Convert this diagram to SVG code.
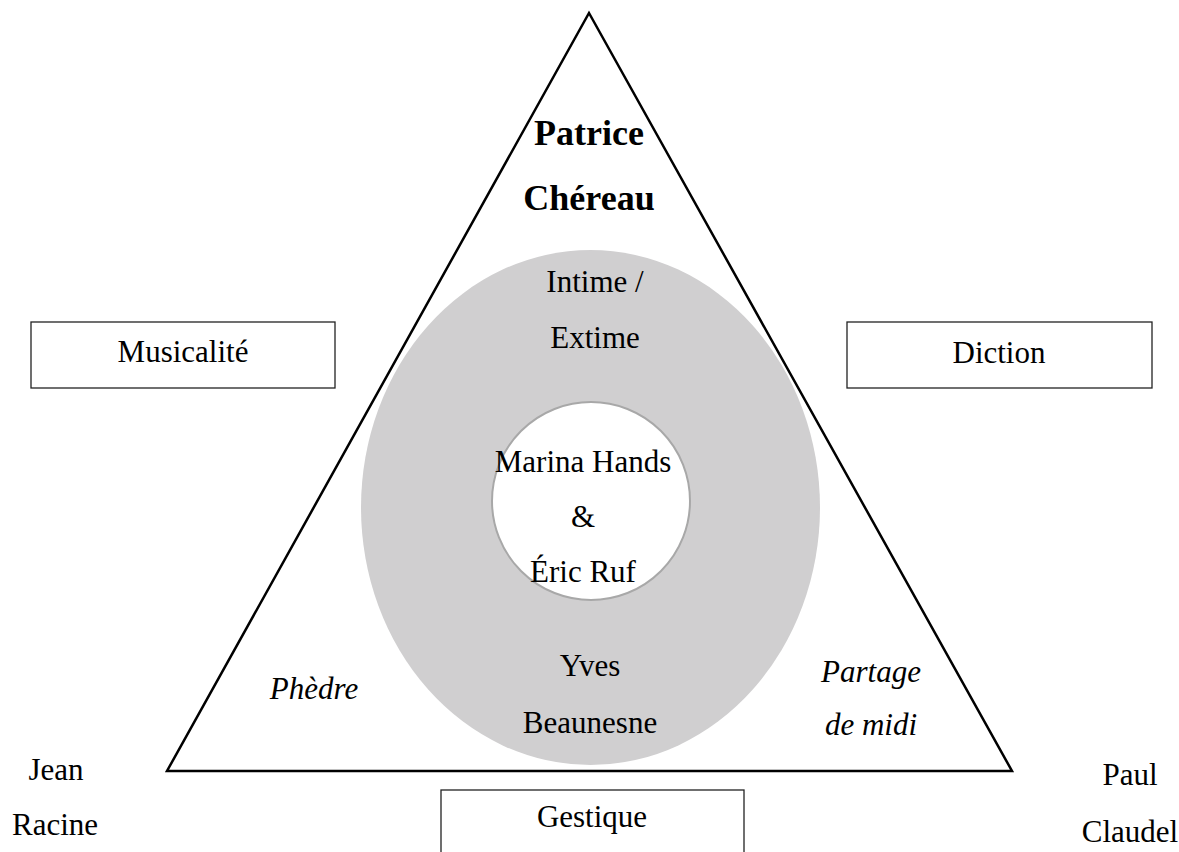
<svg xmlns="http://www.w3.org/2000/svg" width="1179" height="852" viewBox="0 0 1179 852">
<style>
text{font-family:"Liberation Serif","Times New Roman",serif;font-size:31px;fill:#000;text-anchor:middle}
.b{font-weight:bold;font-size:36px}
.i{font-style:italic}
.box{fill:#fff;stroke:#222;stroke-width:1.3}
</style>
<rect width="1179" height="852" fill="#fff"/>
<g id="triangle">
<polygon points="589,13 1012,771 167,771" fill="#fff" stroke="#000" stroke-width="2.5" stroke-linejoin="miter"/>
</g>
<g id="outer-ring">
<ellipse cx="590.5" cy="507.5" rx="229.5" ry="257.5" fill="#d0cfd0"/>
</g>
<g id="inner-circle">
<circle cx="591" cy="501" r="99" fill="#fff" stroke="#a8a8a8" stroke-width="2"/>
</g>
<g id="chereau">
<text class="b" x="589" y="145">Patrice</text>
<text class="b" x="589" y="210">Chéreau</text>
</g>
<g id="intime">
<text x="595" y="292">Intime /</text>
<text x="595" y="348">Extime</text>
</g>
<g id="actors">
<text x="583" y="472">Marina Hands</text>
<text x="583" y="527">&amp;</text>
<text x="583" y="582">Éric Ruf</text>
</g>
<g id="beaunesne">
<text x="590" y="676">Yves</text>
<text x="590" y="733">Beaunesne</text>
</g>
<g id="phedre"><text class="i" x="314" y="699">Phèdre</text></g>
<g id="partage">
<text class="i" x="871" y="682">Partage</text>
<text class="i" x="871" y="735">de midi</text>
</g>
<g id="racine">
<text x="56" y="780">Jean</text>
<text x="55" y="835">Racine</text>
</g>
<g id="claudel">
<text x="1130" y="785">Paul</text>
<text x="1130" y="842">Claudel</text>
</g>
<g id="musicalite">
<rect class="box" x="31" y="322" width="304" height="66"/>
<text x="183" y="362">Musicalité</text>
</g>
<g id="diction">
<rect class="box" x="847" y="322" width="305" height="66"/>
<text x="999" y="363">Diction</text>
</g>
<g id="gestique">
<rect class="box" x="441" y="790" width="303" height="80"/>
<text x="592" y="827">Gestique</text>
</g>
<g id="connectors"></g>
</svg>
